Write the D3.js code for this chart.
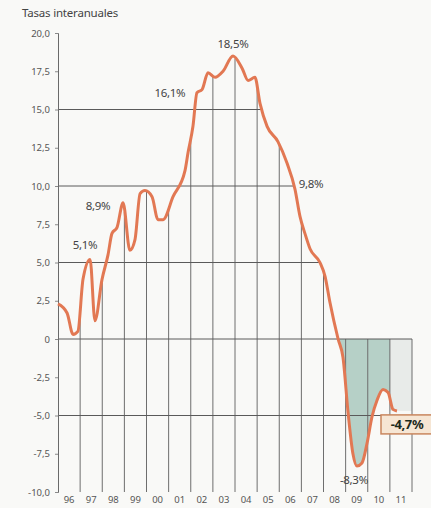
<!DOCTYPE html>
<html><head><meta charset="utf-8">
<script src="https://cdn.jsdelivr.net/npm/d3@7"></script>
<style>
html,body{margin:0;padding:0;background:#f9f9f7;}
svg{display:block;}
text{font-family:"Noto Sans",sans-serif;}
</style></head>
<body>
<svg id="c" width="431" height="508"></svg>
<script>
const title = "Tasas interanuales";
const years = [1996.00,1996.41,1996.68,1996.90,1997.13,1997.45,1997.67,1997.99,1998.26,1998.44,1998.67,1998.94,
  1999.25,1999.48,1999.71,1999.93,2000.25,2000.52,2000.75,2001.20,2001.74,2001.88,2002.10,2002.28,2002.51,2002.78,
  2003.10,2003.46,2003.91,2004.32,2004.59,2004.90,2005.13,2005.45,2005.94,2006.35,2006.71,2006.94,2007.16,2007.39,
  2007.84,2008.07,2008.29,2008.66,2008.88,2009.11,2009.33,2009.51,2009.74,2009.97,2010.19,2010.42,2010.69,2010.92,
  2011.14,2011.32];
const values = [2.3,1.7,0.3,0.5,3.9,5.2,1.2,3.9,5.5,6.9,7.3,8.9,
  5.8,6.5,9.5,9.7,9.3,7.8,7.8,9.3,11.0,12.2,13.9,16.1,16.3,17.4,
  17.1,17.5,18.5,17.7,16.9,17.1,15.4,13.9,12.9,11.5,9.8,8.0,6.9,5.9,
  5.0,4.1,2.4,0.0,-1.2,-4.8,-7.5,-8.3,-8.1,-6.8,-5.1,-4.0,-3.3,-3.5,
  -4.6,-4.7];
const yTicks = [-10,-7.5,-5,-2.5,0,2.5,5,7.5,10,12.5,15,17.5,20];
const gridValues = [15,10,5,0,-5];
const xYears = [1996,1997,1998,1999,2000,2001,2002,2003,2004,2005,2006,2007,2008,2009,2010,2011];
const xLabels = ["96","97","98","99","00","01","02","03","04","05","06","07","08","09","10","11"];
const annYears = [1997.45,1998.94,2002.28,2003.91,2006.71,2009.51];
const annTexts = ["5,1%","8,9%","16,1%","18,5%","9,8%","-8,3%"];
const lastText = "-4,7%";

const data = years.map((t,i)=>({t:t,v:values[i]}));
const svg = d3.select("#c");
const x = d3.scaleLinear().domain([1996,2012]).range([58,412]);
const y = d3.scaleLinear().domain([-10,20]).range([492,33]);

function interp(t){
  if (t<=data[0].t) return data[0].v;
  for (let i=1;i<data.length;i++){
    if (t<=data[i].t){const a=data[i-1],b=data[i];return a.v+(b.v-a.v)*(t-a.t)/(b.t-a.t);}
  }
  return null;
}
function lastCross(level){
  for (let i=data.length-1;i>0;i--){
    const a=data[i-1],b=data[i];
    if ((a.v-level)*(b.v-level)<=0 && a.v!==b.v){return a.t+(level-a.v)*(b.t-a.t)/(b.v-a.v);}
  }
  return 2012;
}

// shaded area (recession)
const t0 = lastCross(0);
const neg = [{t:t0,v:0}].concat(data.filter(d=>d.t>t0));
svg.append("rect").attr("x",x(2011)).attr("y",y(0)).attr("width",x(2012)-x(2011)).attr("height",y(-4.7)-y(0))
  .attr("fill","#e8ebe9");
svg.append("defs").append("clipPath").attr("id","cl").append("rect")
  .attr("x",x(t0)).attr("y",0).attr("width",x(2011)-x(t0)).attr("height",508);
svg.append("path").datum(neg)
  .attr("d",d3.area().x(d=>x(d.t)).y0(y(0)).y1(d=>y(d.v)).curve(d3.curveMonotoneX))
  .attr("fill","#b6d0c7").attr("clip-path","url(#cl)");

// vertical grid
const vg = xYears.slice(1).concat([2012]);
svg.append("g").selectAll("line").data(vg).join("line")
  .attr("x1",d=>x(d)).attr("x2",d=>x(d)).attr("y1",y(-10))
  .attr("y2",d=>{const v=interp(d);return y(v===null?0:Math.max(v,0));})
  .attr("stroke","#6e6e6e").attr("stroke-width",1);

// horizontal grid
svg.append("g").selectAll("line").data(gridValues).join("line")
  .attr("x1",x(1996)).attr("x2",d=>d<=0?x(2012):x(lastCross(d)))
  .attr("y1",d=>y(d)).attr("y2",d=>y(d))
  .attr("stroke","#5a5a5a").attr("stroke-width",1);

// y axis
const fmt = d=> d===0 ? "0" : d3.format(".1f")(d).replace(".",",").replace("−","-");
const ya = svg.append("g").attr("transform",`translate(${x(1996)},0)`)
  .call(d3.axisLeft(y).tickValues(yTicks).tickSize(3).tickPadding(5).tickFormat(fmt));
ya.select(".domain").attr("stroke","#6a6a6a");
ya.selectAll(".tick line").attr("stroke","#8a8a8a");
ya.selectAll("text").attr("fill","#555").style("font-size","9.5px").style("font-family","'Noto Sans',sans-serif");

// x labels
svg.append("g").selectAll("text").data(xYears).join("text")
  .attr("x",d=>x(d+0.5)).attr("y",503).attr("text-anchor","middle")
  .attr("fill","#555").style("font-size","9.5px").text((d,i)=>xLabels[i]);

// line
svg.append("path").datum(data)
  .attr("d",d3.line().x(d=>x(d.t)).y(d=>y(d.v)).curve(d3.curveMonotoneX))
  .attr("fill","none").attr("stroke","#e27853").attr("stroke-width",3).attr("stroke-linejoin","round");

// title
svg.append("text").attr("x",22).attr("y",17).attr("fill","#444").style("font-size","11.5px")
  .style("letter-spacing","-0.2px").text(title);

// annotations
const offs = [[-5,-10],[-25,7],[-27,4.5],[0,-8],[16,-1],[-3,18]];
svg.append("g").selectAll("text").data(annYears).join("text")
  .attr("x",(d,i)=>x(d)+offs[i][0]).attr("y",(d,i)=>y(interp(d))+offs[i][1])
  .attr("text-anchor","middle").attr("fill","#444").style("font-size","11.5px")
  .style("letter-spacing","-0.3px")
  .text((d,i)=>annTexts[i]);

// last value box
const lx = 381, ly = y(data[data.length-1].v)+4;
svg.append("rect").attr("x",lx).attr("y",ly).attr("width",55).attr("height",19)
  .attr("fill","#f6e6d4").attr("stroke","#c9865e").attr("stroke-width",1.5);
svg.append("text").attr("x",lx+26).attr("y",ly+14.5).attr("text-anchor","middle")
  .attr("fill","#1e2a1c").style("font-size","13px").style("font-weight","bold")
  .style("letter-spacing","-0.4px").text(lastText);
</script>
</body></html>
